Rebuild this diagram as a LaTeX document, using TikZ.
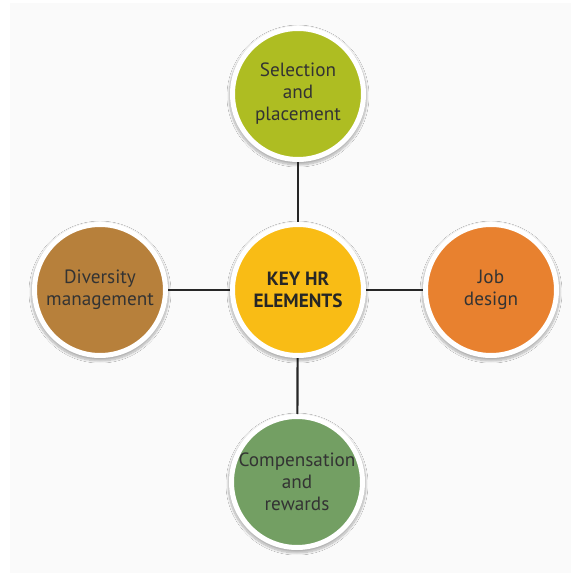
\documentclass[tikz,border=0pt]{standalone}
\usepackage{fontspec}
\setmainfont{PT Sans}
\usetikzlibrary{shadows.blur}
\definecolor{cTop}{HTML}{AEBD22}
\definecolor{cMid}{HTML}{F9BC15}
\definecolor{cRight}{HTML}{E8812F}
\definecolor{cLeft}{HTML}{B7803B}
\definecolor{cBot}{HTML}{739F63}
\definecolor{txt}{HTML}{333333}
\definecolor{bg}{HTML}{FAFAFA}
\tikzset{
  hrcircle/.style={circle, minimum size=131pt, inner sep=0pt, draw=white, line width=5pt,
    text=txt, align=center, font=\fontsize{19.2}{22}\selectfont,
    blur shadow={shadow blur steps=14, shadow xshift=0pt, shadow yshift=-2pt, shadow scale=1.05, shadow opacity=30}},
  link/.style={line width=2.2pt, draw=black!85}
}
\begin{document}
\begin{tikzpicture}[x=1pt,y=1pt]
\useasboundingbox (0,0) rectangle (571,573);
\fill[white] (0,0) rectangle (571,573);
\fill[bg] (10,0) rectangle (571,570);
\coordinate (pc) at (298,283);
\node[hrcircle, fill=cTop] (sel) at (298,479) {Selection\\and\\placement};
\node[hrcircle, fill=cBot] (comp) at (297,91) {Compensation\\and\\rewards};
\node[hrcircle, fill=cLeft] (div) at (100,283) {Diversity\\management};
\node[hrcircle, fill=cRight] (job) at (491,283) {Job\\design};
\draw[link] (pc) -- (sel);
\draw[link] (pc) -- (comp);
\draw[link] (pc) -- (div);
\draw[link] (pc) -- (job);
\node[hrcircle, fill=cMid, font=\bfseries\fontsize{19.2}{22}\selectfont, text=black!85] (key) at (pc) {KEY HR\\ELEMENTS};
\end{tikzpicture}
\end{document}
